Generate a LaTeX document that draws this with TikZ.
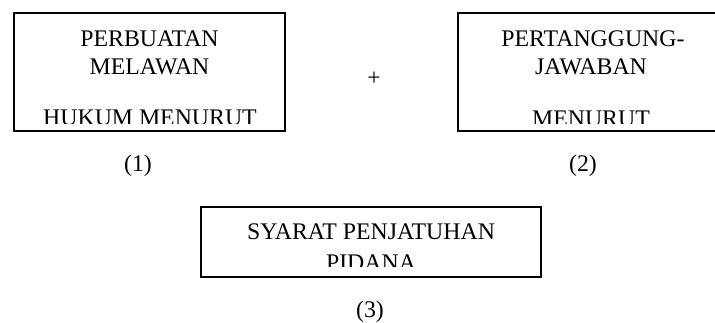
\documentclass[tikz,border=0pt]{standalone}
\usepackage{fontspec}
\setmainfont{Liberation Serif}
\begin{document}
\begin{tikzpicture}[x=1pt,y=-1pt,
  boxline/.style={draw=black,line width=1.7pt},
  txt/.style={inner sep=0pt,anchor=base,font=\fontsize{23.8}{28}\selectfont},
  lbl/.style={inner sep=0pt,anchor=base,font=\fontsize{23.8}{28}\selectfont}]
\useasboundingbox (0,0) rectangle (715,323);
\clip (0,0) rectangle (715,323);

% box (1)
\begin{scope}
  \clip (16,15) rectangle (283,124);
  \node[txt] (t1a) at (149.5,47) {PERBUATAN};
  \node[txt] (t1b) at (149.5,75) {MELAWAN};
  \node[txt] (t1c) at (150,126) {HUKUM MENURUT};
\end{scope}
\draw[boxline] (14,13) rectangle (285,131);

% plus sign
\node[lbl] (plus) at (374,86) {+};

% box (2), running past the right margin
\begin{scope}
  \clip (460,15) rectangle (722,124);
  \node[txt] (t2a) at (593,47) {PERTANGGUNG-};
  \node[txt] (t2b) at (591,75) {JAWABAN};
  \node[txt] (t2c) at (591,127) {MENURUT};
\end{scope}
\draw[boxline] (458,13) rectangle (724,131);

% labels under the top boxes
\node[lbl] (l1) at (138,172) {(1)};
\node[lbl] (l2) at (583,172) {(2)};

% box (3)
\begin{scope}
  \clip (203,209) rectangle (539,267);
  \node[txt] (t3a) at (371,240) {SYARAT PENJATUHAN};
  \node[txt] (t3b) at (371,271) {PIDANA};
\end{scope}
\draw[boxline] (201,207) rectangle (541,277);

\node[lbl] (l3) at (370,317) {(3)};
\end{tikzpicture}
\end{document}
